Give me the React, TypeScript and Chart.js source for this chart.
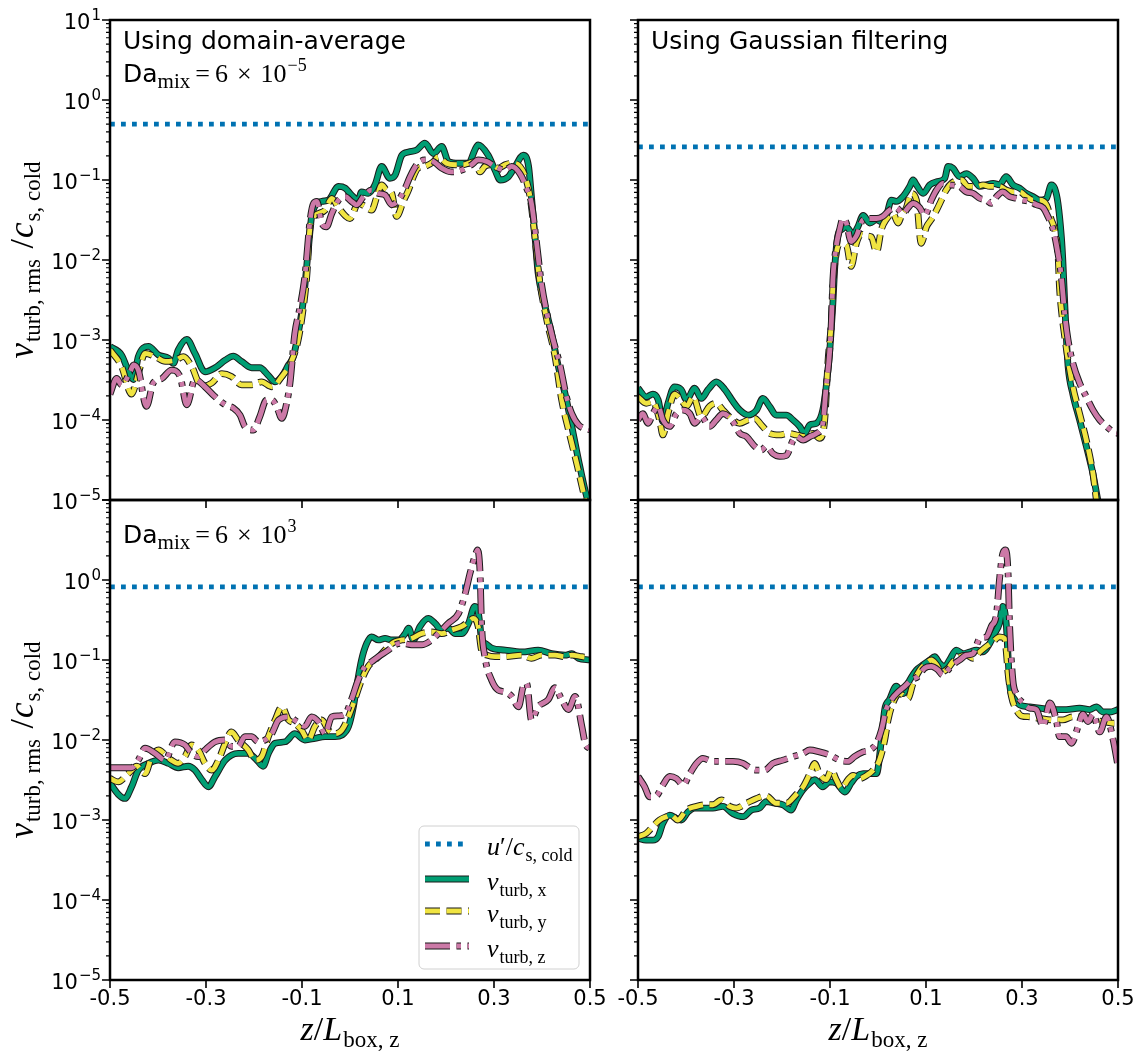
import React, { useEffect, useRef } from "react";
import Chart from "chart.js/auto";

const PAGE_W = 1145;
const PAGE_H = 1057;

// axis ticks
const X_TICKS = [-0.5, -0.3, -0.1, 0.1, 0.3, 0.5];
const Y_TICKS = [1e-5, 1e-4, 1e-3, 1e-2, 1e-1, 1, 10];
const Y_MINOR: number[] = [];
for (let e = -5; e <= 0; e++) for (let m = 2; m <= 9; m++) Y_MINOR.push(m * Math.pow(10, e));

// u'/c_s,cold (horizontal dotted line) per panel
const U_TL = 0.5;
const U_TR = 0.26;
const U_BL = 0.82;
const U_BR = 0.82;

// [z / L_box,z , v / c_s,cold]
// top-left: domain-average, Da_mix = 6e-5
const TL_VX = [[-0.5, 8.3e-4], [-0.476, 6.5e-4], [-0.458, 3.6e-4], [-0.451, 3.2e-4], [-0.441, 6.2e-4], [-0.42, 8.3e-4], [-0.399, 6.5e-4], [-0.378, 5.9e-4], [-0.368, 5.1e-4], [-0.358, 7.5e-4], [-0.34, 1.02e-3], [-0.323, 6.8e-4], [-0.302, 4.0e-4], [-0.281, 4.5e-4], [-0.26, 5.6e-4], [-0.243, 6.3e-4], [-0.226, 5.4e-4], [-0.205, 4.5e-4], [-0.188, 4.5e-4], [-0.17, 3.6e-4], [-0.156, 3.0e-4], [-0.142, 3.5e-4], [-0.128, 4.9e-4], [-0.118, 6.2e-4], [-0.108, 1.2e-3], [-0.097, 3.2e-3], [-0.087, 1.33e-2], [-0.08, 3.5e-2], [-0.073, 4.7e-2], [-0.059, 5.4e-2], [-0.045, 5.6e-2], [-0.024, 8.3e-2], [-0.01, 7.9e-2], [0.003, 6.5e-2], [0.017, 5.6e-2], [0.024, 7.1e-2], [0.038, 6.8e-2], [0.052, 8.7e-2], [0.066, 0.148], [0.083, 0.105], [0.094, 0.115], [0.108, 0.204], [0.122, 0.224], [0.139, 0.237], [0.156, 0.288], [0.174, 0.214], [0.191, 0.263], [0.205, 0.17], [0.226, 0.162], [0.247, 0.162], [0.26, 0.237], [0.267, 0.275], [0.288, 0.204], [0.302, 0.133], [0.313, 0.1], [0.33, 0.11], [0.344, 0.148], [0.361, 0.204], [0.372, 0.148], [0.378, 6.2e-2], [0.385, 2.1e-2], [0.392, 6.8e-3], [0.403, 3.2e-3], [0.42, 1.2e-3], [0.434, 4.7e-4], [0.451, 1.78e-4], [0.465, 6.8e-5], [0.479, 2.6e-5], [0.495, 1.0e-5], [0.5, 8.5e-6]];
const TL_VY = [[-0.5, 7.5e-4], [-0.476, 4.7e-4], [-0.455, 2.1e-4], [-0.441, 3.8e-4], [-0.427, 6.8e-4], [-0.406, 6.2e-4], [-0.385, 5.4e-4], [-0.364, 5.6e-4], [-0.347, 6.2e-4], [-0.33, 4.7e-4], [-0.309, 2.6e-4], [-0.288, 2.9e-4], [-0.267, 3.8e-4], [-0.247, 3.5e-4], [-0.226, 2.75e-4], [-0.205, 2.75e-4], [-0.184, 3.0e-4], [-0.163, 2.6e-4], [-0.142, 3.5e-4], [-0.122, 5.4e-4], [-0.108, 1.0e-3], [-0.097, 2.6e-3], [-0.09, 6.3e-3], [-0.083, 2.6e-2], [-0.066, 3.8e-2], [-0.052, 4.2e-2], [-0.038, 5.9e-2], [-0.024, 4.5e-2], [0.0, 3.3e-2], [0.017, 5.1e-2], [0.031, 4.7e-2], [0.045, 4.2e-2], [0.056, 6.2e-2], [0.066, 8.7e-2], [0.076, 7.5e-2], [0.087, 6.8e-2], [0.097, 3.5e-2], [0.111, 5.4e-2], [0.122, 7.5e-2], [0.132, 0.11], [0.142, 0.141], [0.156, 0.148], [0.174, 0.17], [0.184, 0.195], [0.201, 0.162], [0.219, 0.155], [0.236, 0.155], [0.247, 0.162], [0.26, 0.17], [0.271, 0.126], [0.281, 0.148], [0.295, 0.155], [0.309, 0.141], [0.323, 0.155], [0.337, 0.162], [0.354, 0.148], [0.365, 0.11], [0.375, 6.2e-2], [0.385, 2.0e-2], [0.395, 5.6e-3], [0.41, 1.78e-3], [0.427, 6.3e-4], [0.441, 1.78e-4], [0.457, 6.8e-5], [0.474, 2.6e-5], [0.49, 1.0e-5], [0.5, 6e-6]];
const TL_VZ = [[-0.5, 2.1e-4], [-0.486, 3.3e-4], [-0.476, 2.75e-4], [-0.458, 4.0e-4], [-0.451, 4.9e-4], [-0.441, 4.2e-4], [-0.424, 1.48e-4], [-0.41, 2.9e-4], [-0.392, 3.3e-4], [-0.372, 4.2e-4], [-0.354, 3.5e-4], [-0.34, 1.55e-4], [-0.323, 3.2e-4], [-0.302, 2.6e-4], [-0.281, 1.95e-4], [-0.26, 1.55e-4], [-0.243, 1.41e-4], [-0.229, 1.15e-4], [-0.219, 8.3e-5], [-0.201, 7.5e-5], [-0.188, 1.1e-4], [-0.174, 1.78e-4], [-0.163, 1.78e-4], [-0.153, 1.48e-4], [-0.142, 1.05e-4], [-0.132, 1.62e-4], [-0.125, 2.9e-4], [-0.115, 1.2e-3], [-0.104, 2.6e-3], [-0.094, 6.3e-3], [-0.083, 3.2e-2], [-0.076, 5.1e-2], [-0.069, 5.4e-2], [-0.059, 2.9e-2], [-0.049, 2.6e-2], [-0.038, 3.8e-2], [-0.024, 5.6e-2], [-0.01, 6.2e-2], [0.003, 5.4e-2], [0.014, 4.9e-2], [0.028, 6.2e-2], [0.045, 7.5e-2], [0.059, 6.8e-2], [0.073, 6.5e-2], [0.087, 4.9e-2], [0.101, 5.6e-2], [0.115, 7.9e-2], [0.125, 0.11], [0.139, 0.155], [0.156, 0.178], [0.174, 0.17], [0.191, 0.141], [0.212, 0.126], [0.233, 0.133], [0.253, 0.155], [0.267, 0.178], [0.285, 0.17], [0.302, 0.148], [0.323, 0.133], [0.337, 0.148], [0.354, 0.12], [0.368, 7.9e-2], [0.378, 5.1e-2], [0.388, 1.78e-2], [0.399, 5.0e-3], [0.42, 1.2e-3], [0.438, 4.7e-4], [0.451, 1.95e-4], [0.462, 1.2e-4], [0.476, 8.7e-5], [0.5, 7.5e-5]];

// top-right: Gaussian filtering, Da_mix = 6e-5
const TR_VX = [[-0.5, 2.5e-4], [-0.483, 1.95e-4], [-0.469, 2.1e-4], [-0.458, 1.78e-4], [-0.448, 9.5e-5], [-0.4375, 1.62e-4], [-0.424, 2.6e-4], [-0.41, 2.4e-4], [-0.399, 1.78e-4], [-0.382, 2.5e-4], [-0.368, 1.86e-4], [-0.354, 2.4e-4], [-0.337, 3.0e-4], [-0.319, 2.4e-4], [-0.302, 1.7e-4], [-0.288, 1.33e-4], [-0.271, 1.15e-4], [-0.253, 1.33e-4], [-0.24, 1.86e-4], [-0.226, 1.48e-4], [-0.212, 1.15e-4], [-0.191, 1.15e-4], [-0.177, 1.0e-4], [-0.163, 8.3e-5], [-0.153, 6.8e-5], [-0.142, 8.7e-5], [-0.128, 9.1e-5], [-0.115, 1.33e-4], [-0.108, 2.6e-4], [-0.101, 6.8e-4], [-0.094, 2.9e-3], [-0.09, 8.3e-3], [-0.083, 2.1e-2], [-0.076, 2.4e-2], [-0.066, 2.6e-2], [-0.052, 2.1e-2], [-0.042, 2.6e-2], [-0.031, 3.6e-2], [-0.017, 2.9e-2], [-0.003, 3.2e-2], [0.007, 3.0e-2], [0.017, 3.5e-2], [0.028, 5.6e-2], [0.038, 5.4e-2], [0.052, 6.2e-2], [0.066, 8.3e-2], [0.073, 0.1], [0.08, 8.7e-2], [0.094, 6.8e-2], [0.108, 8.7e-2], [0.122, 9.5e-2], [0.139, 0.105], [0.146, 0.148], [0.156, 0.141], [0.17, 0.11], [0.184, 0.12], [0.198, 0.105], [0.212, 8.3e-2], [0.226, 8.7e-2], [0.24, 9.1e-2], [0.253, 8.7e-2], [0.267, 0.11], [0.281, 8.7e-2], [0.295, 7.9e-2], [0.309, 6.8e-2], [0.323, 6.2e-2], [0.337, 5.6e-2], [0.351, 5.9e-2], [0.361, 8.7e-2], [0.368, 7.9e-2], [0.375, 5.1e-2], [0.382, 1.95e-2], [0.385, 1.0e-2], [0.389, 2.9e-3], [0.392, 1.2e-3], [0.396, 4.7e-4], [0.406, 2.1e-4], [0.42, 1.0e-4], [0.434, 4.7e-5], [0.448, 2.1e-5], [0.458, 1.0e-5], [0.47, 5e-6]];
const TR_VY = [[-0.5, 1.95e-4], [-0.483, 1.62e-4], [-0.469, 1.7e-4], [-0.455, 1.0e-4], [-0.448, 6.5e-5], [-0.4375, 1.2e-4], [-0.424, 2.1e-4], [-0.41, 1.78e-4], [-0.399, 1.48e-4], [-0.385, 1.95e-4], [-0.368, 1.1e-4], [-0.351, 1.48e-4], [-0.337, 1.62e-4], [-0.323, 1.33e-4], [-0.302, 1.0e-4], [-0.288, 9.1e-5], [-0.271, 1.0e-4], [-0.257, 1.05e-4], [-0.243, 8.7e-5], [-0.226, 6.8e-5], [-0.205, 6.5e-5], [-0.1875, 6.8e-5], [-0.17, 6.5e-5], [-0.153, 6.2e-5], [-0.135, 6.8e-5], [-0.122, 5.9e-5], [-0.111, 1.0e-4], [-0.104, 5.6e-4], [-0.097, 1.78e-3], [-0.094, 4.7e-3], [-0.087, 1.2e-2], [-0.08, 1.62e-2], [-0.066, 1.55e-2], [-0.056, 8.3e-3], [-0.045, 1.62e-2], [-0.035, 2.1e-2], [-0.024, 2.0e-2], [-0.014, 1.95e-2], [-0.003, 1.26e-2], [0.007, 2.4e-2], [0.017, 3.2e-2], [0.031, 3.8e-2], [0.042, 2.9e-2], [0.049, 3.6e-2], [0.059, 4.5e-2], [0.069, 6.8e-2], [0.08, 5.6e-2], [0.09, 1.62e-2], [0.101, 2.6e-2], [0.111, 3.2e-2], [0.122, 4.2e-2], [0.132, 5.6e-2], [0.142, 7.5e-2], [0.153, 9.1e-2], [0.174, 0.1], [0.1875, 8.3e-2], [0.205, 8.3e-2], [0.219, 8.7e-2], [0.233, 8.3e-2], [0.253, 8.3e-2], [0.267, 7.5e-2], [0.281, 7.1e-2], [0.295, 7.1e-2], [0.309, 6.2e-2], [0.323, 5.6e-2], [0.337, 5.6e-2], [0.351, 4.9e-2], [0.361, 3.2e-2], [0.368, 2.4e-2], [0.375, 1.2e-2], [0.378, 4.7e-3], [0.382, 2.4e-3], [0.389, 1.1e-3], [0.396, 5.6e-4], [0.406, 2.6e-4], [0.42, 1.2e-4], [0.434, 5.6e-5], [0.448, 2.1e-5], [0.455, 1.0e-5], [0.465, 5e-6]];
const TR_VZ = [[-0.5, 1.0e-4], [-0.49, 1.2e-4], [-0.479, 9.1e-5], [-0.469, 1.2e-4], [-0.458, 1.48e-4], [-0.448, 1.0e-4], [-0.434, 8.3e-5], [-0.42, 1.2e-4], [-0.406, 1.33e-4], [-0.392, 1.2e-4], [-0.382, 9.1e-5], [-0.368, 1.1e-4], [-0.351, 8.3e-5], [-0.337, 1.0e-4], [-0.323, 1.2e-4], [-0.302, 9.5e-5], [-0.288, 6.8e-5], [-0.274, 6.2e-5], [-0.257, 4.7e-5], [-0.243, 4.2e-5], [-0.233, 4.7e-5], [-0.219, 3.8e-5], [-0.205, 3.5e-5], [-0.191, 3.6e-5], [-0.177, 5.6e-5], [-0.17, 6.2e-5], [-0.156, 5.6e-5], [-0.142, 6.2e-5], [-0.128, 6.8e-5], [-0.115, 9.1e-5], [-0.108, 2.6e-4], [-0.101, 6.8e-4], [-0.097, 1.78e-3], [-0.094, 5.6e-3], [-0.087, 1.48e-2], [-0.08, 2.4e-2], [-0.073, 3.3e-2], [-0.066, 2.9e-2], [-0.056, 1.7e-2], [-0.045, 2.0e-2], [-0.031, 3.2e-2], [-0.017, 3.3e-2], [-0.003, 3.3e-2], [0.01, 3.5e-2], [0.024, 4.2e-2], [0.038, 4.5e-2], [0.052, 3.8e-2], [0.0625, 4.5e-2], [0.073, 5.1e-2], [0.087, 4.5e-2], [0.097, 3.6e-2], [0.111, 5.6e-2], [0.122, 7.5e-2], [0.135, 9.1e-2], [0.149, 8.7e-2], [0.17, 8.3e-2], [0.184, 7.1e-2], [0.198, 6.8e-2], [0.212, 5.9e-2], [0.226, 5.6e-2], [0.236, 5.1e-2], [0.247, 6.2e-2], [0.26, 7.1e-2], [0.274, 6.2e-2], [0.288, 5.9e-2], [0.302, 5.6e-2], [0.316, 5.4e-2], [0.33, 4.9e-2], [0.344, 4.5e-2], [0.354, 3.5e-2], [0.365, 2.4e-2], [0.375, 1.2e-2], [0.382, 6.2e-3], [0.389, 2.1e-3], [0.396, 1.0e-3], [0.406, 5.1e-4], [0.42, 2.9e-4], [0.434, 1.95e-4], [0.448, 1.33e-4], [0.462, 1.0e-4], [0.476, 8.3e-5], [0.49, 7.1e-5], [0.5, 6.8e-5]];

// bottom-left: domain-average, Da_mix = 6e3
const BL_VX = [[-0.5, 2.9e-3], [-0.483, 2.1e-3], [-0.469, 1.86e-3], [-0.455, 2.6e-3], [-0.441, 4.2e-3], [-0.42, 5.1e-3], [-0.399, 5.6e-3], [-0.378, 5.1e-3], [-0.358, 4.5e-3], [-0.337, 4.7e-3], [-0.323, 4.2e-3], [-0.309, 3.2e-3], [-0.295, 2.6e-3], [-0.281, 3.5e-3], [-0.26, 5.6e-3], [-0.233, 6.8e-3], [-0.212, 6.8e-3], [-0.194, 5.6e-3], [-0.181, 4.7e-3], [-0.17, 6.8e-3], [-0.156, 9.1e-3], [-0.135, 9.5e-3], [-0.115, 1.2e-2], [-0.094, 1.0e-2], [-0.073, 1.05e-2], [-0.052, 1.1e-2], [-0.031, 1.1e-2], [-0.017, 1.15e-2], [-0.003, 1.48e-2], [0.007, 2.6e-2], [0.014, 4.7e-2], [0.024, 0.1], [0.035, 0.162], [0.045, 0.195], [0.059, 0.178], [0.073, 0.186], [0.087, 0.178], [0.101, 0.178], [0.115, 0.214], [0.122, 0.251], [0.132, 0.178], [0.146, 0.263], [0.163, 0.331], [0.177, 0.288], [0.191, 0.237], [0.205, 0.251], [0.219, 0.214], [0.233, 0.214], [0.247, 0.288], [0.26, 0.468], [0.267, 0.4], [0.271, 0.263], [0.274, 0.178], [0.281, 0.162], [0.295, 0.141], [0.323, 0.133], [0.358, 0.126], [0.392, 0.133], [0.42, 0.12], [0.448, 0.115], [0.462, 0.12], [0.476, 0.105], [0.5, 0.1]];
const BL_VY = [[-0.5, 3.3e-3], [-0.483, 3.0e-3], [-0.462, 3.8e-3], [-0.444, 4.7e-3], [-0.427, 3.8e-3], [-0.413, 6.2e-3], [-0.399, 7.5e-3], [-0.385, 6.5e-3], [-0.372, 5.6e-3], [-0.358, 5.1e-3], [-0.344, 6.2e-3], [-0.33, 8.7e-3], [-0.316, 7.5e-3], [-0.302, 5.1e-3], [-0.288, 4.2e-3], [-0.274, 5.6e-3], [-0.26, 9.1e-3], [-0.247, 1.26e-2], [-0.233, 1.0e-2], [-0.212, 7.5e-3], [-0.198, 5.6e-3], [-0.184, 6.2e-3], [-0.17, 1.1e-2], [-0.156, 1.78e-2], [-0.142, 2.6e-2], [-0.128, 1.78e-2], [-0.115, 1.62e-2], [-0.101, 1.33e-2], [-0.087, 1.0e-2], [-0.073, 1.48e-2], [-0.059, 1.78e-2], [-0.045, 1.33e-2], [-0.031, 1.2e-2], [-0.017, 1.33e-2], [-0.003, 1.95e-2], [0.01, 3.2e-2], [0.024, 5.6e-2], [0.038, 8.3e-2], [0.052, 0.1], [0.066, 0.12], [0.08, 0.148], [0.094, 0.17], [0.108, 0.178], [0.128, 0.186], [0.149, 0.214], [0.17, 0.224], [0.191, 0.214], [0.212, 0.237], [0.233, 0.263], [0.247, 0.302], [0.257, 0.331], [0.267, 0.263], [0.274, 0.133], [0.285, 0.115], [0.302, 0.11], [0.323, 0.11], [0.358, 0.115], [0.378, 0.105], [0.399, 0.115], [0.427, 0.115], [0.448, 0.11], [0.462, 0.115], [0.483, 0.11], [0.5, 0.107]];
const BL_VZ = [[-0.5, 4.5e-3], [-0.455, 4.5e-3], [-0.441, 5.6e-3], [-0.427, 7.9e-3], [-0.406, 6.8e-3], [-0.385, 5.6e-3], [-0.365, 9.5e-3], [-0.344, 8.7e-3], [-0.33, 6.8e-3], [-0.316, 6.2e-3], [-0.302, 7.5e-3], [-0.281, 9.5e-3], [-0.26, 1.0e-2], [-0.247, 8.3e-3], [-0.233, 8.3e-3], [-0.219, 1.1e-2], [-0.205, 1.1e-2], [-0.191, 9.5e-3], [-0.177, 1.0e-2], [-0.163, 1.2e-2], [-0.149, 1.78e-2], [-0.128, 1.95e-2], [-0.111, 1.7e-2], [-0.094, 1.48e-2], [-0.08, 1.95e-2], [-0.066, 1.7e-2], [-0.052, 1.2e-2], [-0.038, 1.95e-2], [-0.024, 2.0e-2], [-0.01, 2.1e-2], [0.003, 3.2e-2], [0.017, 5.6e-2], [0.031, 8.3e-2], [0.045, 9.5e-2], [0.059, 0.11], [0.08, 0.133], [0.094, 0.155], [0.108, 0.162], [0.128, 0.155], [0.149, 0.155], [0.17, 0.178], [0.184, 0.214], [0.205, 0.288], [0.226, 0.38], [0.24, 0.676], [0.25, 1.21], [0.26, 1.95], [0.266, 2.37], [0.271, 1.21], [0.274, 0.288], [0.281, 0.11], [0.295, 5.6e-2], [0.309, 4.2e-2], [0.323, 4.0e-2], [0.337, 3.5e-2], [0.351, 2.6e-2], [0.361, 4.7e-2], [0.368, 5.1e-2], [0.378, 1.78e-2], [0.392, 2.6e-2], [0.413, 3.2e-2], [0.427, 4.5e-2], [0.441, 3.2e-2], [0.455, 2.4e-2], [0.469, 3.5e-2], [0.483, 1.48e-2], [0.49, 9.1e-3], [0.5, 7.8e-3]];

// bottom-right: Gaussian filtering, Da_mix = 6e3
const BR_VX = [[-0.5, 5.9e-4], [-0.483, 5.6e-4], [-0.469, 5.6e-4], [-0.458, 6.2e-4], [-0.448, 9.1e-4], [-0.434, 1.15e-3], [-0.42, 1.05e-3], [-0.41, 1.0e-3], [-0.396, 1.26e-3], [-0.382, 1.41e-3], [-0.365, 1.41e-3], [-0.344, 1.41e-3], [-0.323, 1.48e-3], [-0.302, 1.2e-3], [-0.281, 1.1e-3], [-0.264, 1.33e-3], [-0.247, 1.41e-3], [-0.233, 1.7e-3], [-0.215, 1.62e-3], [-0.198, 1.55e-3], [-0.181, 1.33e-3], [-0.17, 1.78e-3], [-0.156, 2.4e-3], [-0.142, 2.9e-3], [-0.132, 3.2e-3], [-0.115, 2.6e-3], [-0.101, 3.0e-3], [-0.087, 2.9e-3], [-0.069, 2.24e-3], [-0.056, 2.9e-3], [-0.045, 3.5e-3], [-0.031, 3.8e-3], [-0.017, 3.8e-3], [-0.003, 3.8e-3], [0.007, 1.0e-2], [0.014, 2.4e-2], [0.024, 3.2e-2], [0.038, 4.7e-2], [0.052, 3.8e-2], [0.066, 5.6e-2], [0.08, 7.5e-2], [0.094, 8.7e-2], [0.108, 0.1], [0.118, 0.11], [0.128, 9.1e-2], [0.139, 8.3e-2], [0.149, 0.1], [0.163, 0.133], [0.177, 0.12], [0.191, 0.126], [0.205, 0.133], [0.219, 0.126], [0.233, 0.162], [0.243, 0.214], [0.253, 0.288], [0.26, 0.468], [0.267, 0.288], [0.271, 0.11], [0.274, 5.1e-2], [0.285, 3.2e-2], [0.295, 2.75e-2], [0.316, 2.6e-2], [0.337, 2.5e-2], [0.365, 2.4e-2], [0.392, 2.4e-2], [0.42, 2.5e-2], [0.441, 2.4e-2], [0.455, 2.6e-2], [0.469, 2.24e-2], [0.483, 2.24e-2], [0.5, 2.4e-2]];
const BR_VY = [[-0.5, 6.2e-4], [-0.483, 6.8e-4], [-0.469, 8.3e-4], [-0.455, 1.0e-3], [-0.441, 1.1e-3], [-0.431, 1.15e-3], [-0.417, 1.0e-3], [-0.399, 1.33e-3], [-0.378, 1.48e-3], [-0.358, 1.55e-3], [-0.344, 1.55e-3], [-0.326, 1.78e-3], [-0.309, 1.48e-3], [-0.295, 1.41e-3], [-0.274, 1.62e-3], [-0.253, 1.86e-3], [-0.233, 2.0e-3], [-0.212, 1.62e-3], [-0.191, 1.62e-3], [-0.17, 2.1e-3], [-0.156, 2.6e-3], [-0.142, 3.8e-3], [-0.132, 5.1e-3], [-0.122, 3.8e-3], [-0.108, 3.2e-3], [-0.097, 4.2e-3], [-0.087, 3.2e-3], [-0.076, 2.5e-3], [-0.0625, 3.2e-3], [-0.052, 3.6e-3], [-0.038, 3.3e-3], [-0.024, 3.6e-3], [-0.01, 4.2e-3], [0.003, 5.6e-3], [0.014, 1.0e-2], [0.021, 1.78e-2], [0.031, 2.9e-2], [0.045, 3.8e-2], [0.056, 3.5e-2], [0.0625, 3.3e-2], [0.073, 5.1e-2], [0.087, 7.5e-2], [0.101, 9.1e-2], [0.111, 0.1], [0.122, 8.7e-2], [0.132, 7.1e-2], [0.146, 7.9e-2], [0.156, 9.5e-2], [0.17, 0.11], [0.184, 0.115], [0.198, 0.105], [0.212, 0.126], [0.226, 0.148], [0.24, 0.17], [0.253, 0.195], [0.264, 0.186], [0.267, 0.133], [0.271, 6.8e-2], [0.278, 3.5e-2], [0.288, 2.4e-2], [0.299, 2.0e-2], [0.316, 1.95e-2], [0.337, 1.86e-2], [0.365, 1.78e-2], [0.385, 1.78e-2], [0.406, 1.95e-2], [0.427, 1.95e-2], [0.448, 1.78e-2], [0.469, 1.7e-2], [0.49, 1.62e-2], [0.5, 1.62e-2]];
const BR_VZ = [[-0.5, 3.5e-3], [-0.486, 2.6e-3], [-0.476, 1.95e-3], [-0.462, 2.0e-3], [-0.448, 2.75e-3], [-0.434, 3.5e-3], [-0.42, 3.3e-3], [-0.406, 2.75e-3], [-0.392, 3.8e-3], [-0.378, 5.1e-3], [-0.365, 5.9e-3], [-0.344, 5.4e-3], [-0.323, 5.4e-3], [-0.302, 5.4e-3], [-0.281, 5.1e-3], [-0.267, 4.5e-3], [-0.253, 4.2e-3], [-0.236, 4.2e-3], [-0.219, 5.1e-3], [-0.198, 5.6e-3], [-0.177, 6.2e-3], [-0.156, 6.8e-3], [-0.142, 7.5e-3], [-0.122, 7.1e-3], [-0.101, 6.5e-3], [-0.08, 5.6e-3], [-0.0625, 5.4e-3], [-0.049, 6.2e-3], [-0.031, 7.1e-3], [-0.017, 7.5e-3], [-0.003, 9.1e-3], [0.007, 1.33e-2], [0.017, 2.4e-2], [0.028, 3.2e-2], [0.042, 4.0e-2], [0.056, 4.7e-2], [0.069, 5.6e-2], [0.083, 6.2e-2], [0.097, 7.9e-2], [0.111, 8.3e-2], [0.125, 7.5e-2], [0.135, 6.5e-2], [0.149, 7.9e-2], [0.16, 9.1e-2], [0.17, 0.1], [0.184, 0.115], [0.198, 0.12], [0.212, 0.186], [0.226, 0.195], [0.236, 0.263], [0.247, 0.38], [0.253, 1.0], [0.26, 2.15], [0.266, 2.37], [0.271, 1.21], [0.274, 0.288], [0.281, 5.6e-2], [0.288, 3.8e-2], [0.302, 2.9e-2], [0.316, 2.5e-2], [0.33, 2.4e-2], [0.344, 1.48e-2], [0.358, 2.9e-2], [0.372, 1.7e-2], [0.378, 1.1e-2], [0.392, 1.1e-2], [0.403, 9.1e-3], [0.417, 1.48e-2], [0.427, 2.1e-2], [0.4375, 1.7e-2], [0.448, 2.1e-2], [0.462, 1.26e-2], [0.476, 1.95e-2], [0.49, 1.0e-2], [0.5, 4.7e-3]];

const SANS = '"DejaVu Sans", sans-serif';
const SERIF = '"Liberation Serif", "DejaVu Serif", serif';

const STYLES: any = {
  u: { color: "#0072B2", width: 4.8, dash: [4.8, 6.2], outline: false },
  x: { color: "#009E73", width: 4.8, dash: [], outline: true },
  y: { color: "#F0E442", width: 4.8, dash: [15, 6.5], outline: true },
  z: { color: "#CC79A7", width: 4.8, dash: [25, 6.5, 4.5, 6.5], outline: true },
};

type Run = { t: string; size: number; family?: string; italic?: boolean; dy?: number; dx?: number };
const fontOf = (r: Run) => `${r.italic ? "italic " : ""}${r.size}px ${r.family ?? SERIF}`;

function runsWidth(ctx: CanvasRenderingContext2D, runs: Run[]) {
  let w = 0;
  for (const r of runs) {
    ctx.font = fontOf(r);
    w += (r.dx ?? 0) + ctx.measureText(r.t).width;
  }
  return w;
}

function drawRuns(ctx: CanvasRenderingContext2D, runs: Run[], x: number, y: number) {
  let cx = x;
  for (const r of runs) {
    ctx.font = fontOf(r);
    cx += r.dx ?? 0;
    ctx.fillText(r.t, cx, y + (r.dy ?? 0));
    cx += ctx.measureText(r.t).width;
  }
}

const daRuns = (exp: string): Run[] => [
  { t: "Da", size: 25, family: SANS },
  { t: "mix", size: 21, dy: 6 },
  { t: "=", size: 26, dx: 5 },
  { t: "6", size: 26, dx: 5 },
  { t: "×", size: 26, dx: 9 },
  { t: "10", size: 26, dx: 9 },
  { t: exp, size: 18, dy: -11, dx: 1 },
];

const Y_TITLE: Run[] = [
  { t: "v", size: 35, italic: true },
  { t: "turb, rms", size: 23, dy: 7, dx: 1 },
  { t: " /", size: 34, dx: 2 },
  { t: "c", size: 35, italic: true, dx: 1 },
  { t: "s, cold", size: 23, dy: 7, dx: 1 },
];
const X_TITLE: Run[] = [
  { t: "z", size: 34, italic: true },
  { t: "/", size: 34 },
  { t: "L", size: 34, italic: true },
  { t: "box, z", size: 23, dy: 7, dx: 1 },
];
const LEGEND_ROWS: { key: string; runs: Run[] }[] = [
  { key: "u", runs: [{ t: "u", size: 26, italic: true }, { t: "′", size: 26 }, { t: "/", size: 26 }, { t: "c", size: 26, italic: true }, { t: "s, cold", size: 18, dy: 6, dx: 1 }] },
  { key: "x", runs: [{ t: "v", size: 26, italic: true }, { t: "turb, x", size: 18, dy: 6, dx: 1 }] },
  { key: "y", runs: [{ t: "v", size: 26, italic: true }, { t: "turb, y", size: 18, dy: 6, dx: 1 }] },
  { key: "z", runs: [{ t: "v", size: 26, italic: true }, { t: "turb, z", size: 18, dy: 6, dx: 1 }] },
];

const PANELS = [
  { key: "tl", left: 110, top: 20, right: 590, bottom: 500, vx: TL_VX, vy: TL_VY, vz: TL_VZ, u: U_TL, yLabels: true, xLabels: false, topLabel: true,
    notes: [{ x: 123, y: 49, runs: [{ t: "Using domain-average", size: 25, family: SANS }] }, { x: 123, y: 82, runs: daRuns("−5") }], legend: false },
  { key: "tr", left: 638, top: 20, right: 1118, bottom: 500, vx: TR_VX, vy: TR_VY, vz: TR_VZ, u: U_TR, yLabels: false, xLabels: false, topLabel: false,
    notes: [{ x: 651, y: 49, runs: [{ t: "Using Gaussian filtering", size: 25, family: SANS }] }], legend: false },
  { key: "bl", left: 110, top: 500, right: 590, bottom: 980, vx: BL_VX, vy: BL_VY, vz: BL_VZ, u: U_BL, yLabels: true, xLabels: true, topLabel: false,
    notes: [{ x: 123, y: 543, runs: daRuns("3") }], legend: true },
  { key: "br", left: 638, top: 500, right: 1118, bottom: 980, vx: BR_VX, vy: BR_VY, vz: BR_VZ, u: U_BR, yLabels: false, xLabels: true, topLabel: false,
    notes: [], legend: false },
];

const Y_AXIS_W = 60;
const X_AXIS_H = 40;

function strokeStyled(ctx: CanvasRenderingContext2D, st: any, path: () => void) {
  ctx.lineCap = "butt";
  ctx.setLineDash(st.dash);
  if (st.outline) {
    ctx.strokeStyle = "#1a1a1a";
    ctx.lineWidth = st.width + 2;
    ctx.beginPath();
    path();
    ctx.stroke();
  }
  ctx.strokeStyle = st.color;
  ctx.lineWidth = st.width;
  ctx.beginPath();
  path();
  ctx.stroke();
  ctx.setLineDash([]);
}

// "10" with a raised exponent, right-aligned at x
function drawPow10(ctx: CanvasRenderingContext2D, v: number, x: number, y: number) {
  const exp = Math.round(Math.log10(v));
  const runs: Run[] = [
    { t: "10", size: 21, family: SANS },
    { t: exp < 0 ? "−" + -exp : String(exp), size: 15, family: SANS, dy: -9, dx: 1 },
  ];
  drawRuns(ctx, runs, x - runsWidth(ctx, runs), y);
}

function decorPlugin(p: any) {
  return {
    id: "decor",
    afterDatasetsDraw(chart: any) {
      const { ctx, chartArea: a, scales } = chart;
      const xs = scales.x;
      const ys = scales.y;
      ctx.save();
      ctx.strokeStyle = "#000";
      ctx.lineWidth = 1.6;
      ctx.beginPath();
      for (const v of X_TICKS) {
        const px = xs.getPixelForValue(v);
        ctx.moveTo(px, a.bottom);
        ctx.lineTo(px, a.bottom + 8);
      }
      for (const v of Y_TICKS) {
        const py = ys.getPixelForValue(v);
        ctx.moveTo(a.left, py);
        ctx.lineTo(a.left - 8, py);
      }
      ctx.stroke();
      ctx.lineWidth = 1.1;
      ctx.beginPath();
      for (const v of Y_MINOR) {
        const py = ys.getPixelForValue(v);
        ctx.moveTo(a.left, py);
        ctx.lineTo(a.left - 4, py);
      }
      ctx.stroke();
      ctx.lineWidth = 2.5;
      ctx.strokeRect(a.left, a.top, a.right - a.left, a.bottom - a.top);

      ctx.fillStyle = "#000";
      ctx.textBaseline = "alphabetic";
      ctx.textAlign = "left";
      for (const n of p.notes) drawRuns(ctx, n.runs, n.x, n.y);
      ctx.restore();
    },
    afterDraw(chart: any) {
      const { ctx, chartArea: a, scales } = chart;
      ctx.save();
      ctx.fillStyle = "#000";
      ctx.textBaseline = "alphabetic";
      ctx.textAlign = "left";
      if (p.yLabels) {
        for (const v of Y_TICKS) {
          if (v === 10 && !p.topLabel) continue;
          drawPow10(ctx, v, a.left - 9, scales.y.getPixelForValue(v) + 9);
        }
        ctx.save();
        ctx.translate(33, (a.top + a.bottom) / 2);
        ctx.rotate(-Math.PI / 2);
        drawRuns(ctx, Y_TITLE, -runsWidth(ctx, Y_TITLE) / 2, 0);
        ctx.restore();
      }
      if (p.xLabels) {
        const cx = (a.left + a.right) / 2;
        drawRuns(ctx, X_TITLE, cx - runsWidth(ctx, X_TITLE) / 2, 1040);
      }
      if (p.legend) {
        const bx = 419, by = 826, bw = 160, bh = 143;
        ctx.beginPath();
        ctx.roundRect(bx, by, bw, bh, 5);
        ctx.fillStyle = "rgba(255,255,255,0.85)";
        ctx.fill();
        ctx.strokeStyle = "#d0d0d0";
        ctx.lineWidth = 1;
        ctx.stroke();
        const baselines = [855, 890, 922, 957];
        LEGEND_ROWS.forEach((row, i) => {
          const ly = baselines[i] - 11;
          strokeStyled(ctx, STYLES[row.key], () => {
            ctx.moveTo(425, ly);
            ctx.lineTo(469, ly);
          });
          ctx.fillStyle = "#000";
          drawRuns(ctx, row.runs, 487, baselines[i]);
        });
      }
      ctx.restore();
    },
  };
}

function buildDatasets(p: any) {
  const sets: any[] = [];
  const common = {
    pointRadius: 0,
    pointHoverRadius: 0,
    fill: false,
    cubicInterpolationMode: "monotone",
    tension: 0.4,
    clip: 0,
    borderCapStyle: "butt",
    borderJoinStyle: "round",
  };
  const add = (rows: number[][], st: any, order: number) => {
    const pts = rows.map(([x, y]) => ({ x, y }));
    if (st.outline) {
      sets.push({ ...common, data: pts, borderColor: "#1a1a1a", borderWidth: st.width + 2, borderDash: st.dash, order: order + 1 });
    }
    sets.push({ ...common, data: pts, borderColor: st.color, borderWidth: st.width, borderDash: st.dash, order });
  };
  add([[-0.5, p.u], [0.5, p.u]], STYLES.u, 10);
  add(p.vx, STYLES.x, 6);
  add(p.vy, STYLES.y, 3);
  add(p.vz, STYLES.z, 0);
  return sets;
}

function PanelChart({ p }: { p: any }) {
  const ref = useRef<HTMLCanvasElement>(null);

  useEffect(() => {
    if (!ref.current) return;
    const ctx = ref.current.getContext("2d");
    if (!ctx) return;

    const chart = new Chart(ctx, {
      type: "line",
      data: { datasets: buildDatasets(p) },
      options: {
        animation: false,
        responsive: true,
        maintainAspectRatio: false,
        events: [],
        layout: {
          padding: {
            left: p.left - Y_AXIS_W,
            top: p.top,
            right: PAGE_W - p.right,
            bottom: PAGE_H - p.bottom - X_AXIS_H,
          },
        },
        scales: {
          x: {
            type: "linear",
            min: -0.5,
            max: 0.5,
            afterBuildTicks: (s: any) => {
              s.ticks = X_TICKS.map((v) => ({ value: v }));
            },
            afterFit: (s: any) => {
              s.height = X_AXIS_H;
            },
            ticks: {
              display: p.xLabels,
              autoSkip: false,
              maxRotation: 0,
              padding: 7,
              color: "#000",
              font: { family: "DejaVu Sans", size: 21 },
              callback: (v: any) => Number(v).toFixed(1),
            },
            grid: { display: false, drawTicks: false },
            border: { display: false },
          },
          y: {
            type: "logarithmic",
            min: 1e-5,
            max: 10,
            afterBuildTicks: (s: any) => {
              s.ticks = Y_TICKS.map((v) => ({ value: v, major: true }));
            },
            afterFit: (s: any) => {
              s.width = Y_AXIS_W;
            },
            ticks: { display: false },
            grid: { display: false, drawTicks: false },
            border: { display: false },
          },
        },
        plugins: {
          legend: { display: false },
          tooltip: { enabled: false },
        },
      } as any,
      plugins: [decorPlugin(p)],
    });

    return () => {
      chart.destroy();
    };
  }, [p]);

  return (
    <div style={{ position: "absolute", left: 0, top: 0, width: PAGE_W, height: PAGE_H }}>
      <canvas ref={ref} />
    </div>
  );
}

export default function App() {
  return (
    <div style={{ position: "absolute", left: 0, top: 0, width: PAGE_W, height: PAGE_H, background: "#fff" }}>
      {PANELS.map((p) => (
        <PanelChart key={p.key} p={p} />
      ))}
    </div>
  );
}
